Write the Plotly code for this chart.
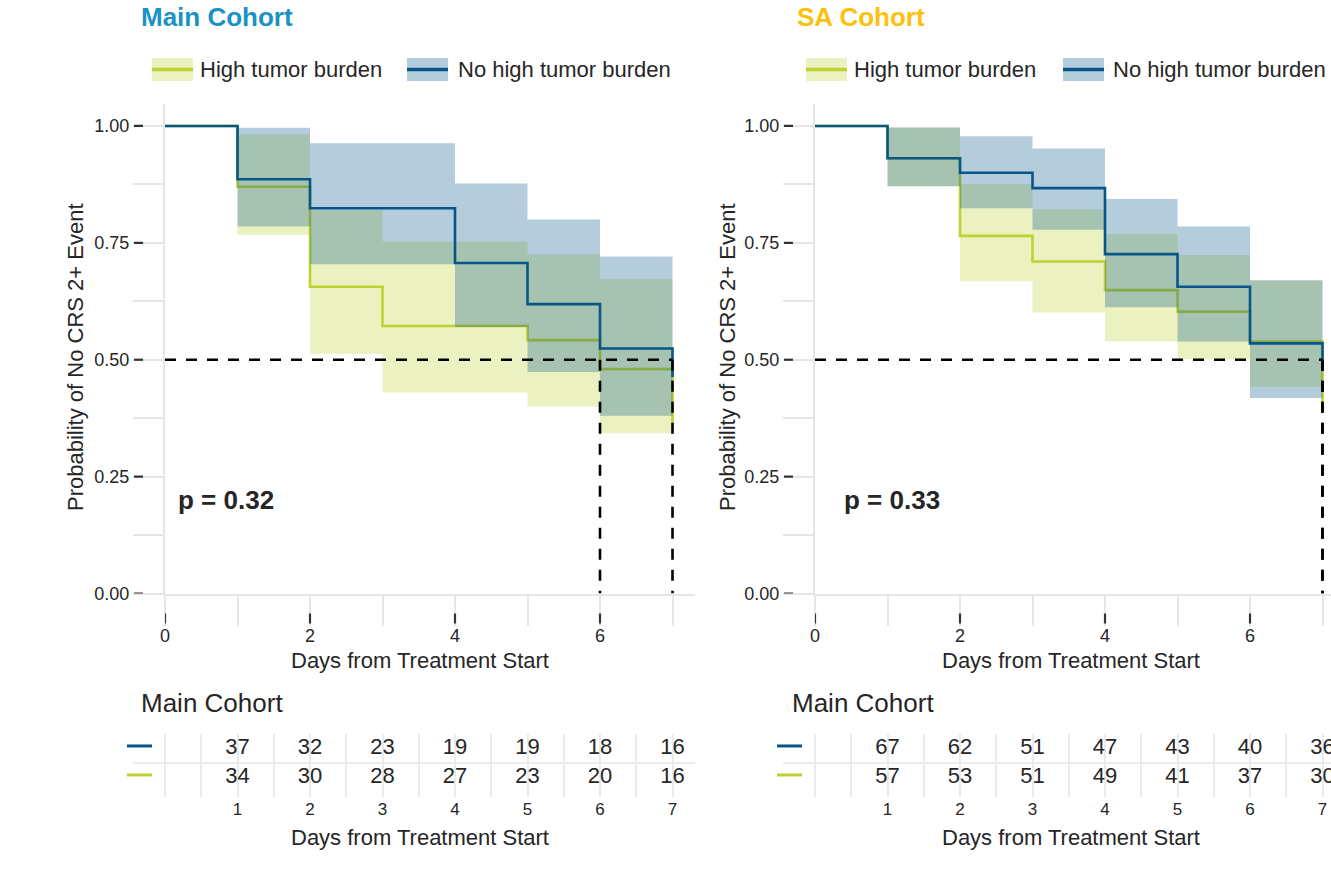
import plotly.graph_objects as go

# ---------------------------------------------------------------------------
# Kaplan-Meier estimates (probability of no CRS 2+ event) by day
# ---------------------------------------------------------------------------
days = [0, 1, 2, 3, 4, 5, 6, 7]

# Main cohort
main_high_surv = [1.00, 0.870, 0.656, 0.572, 0.572, 0.542, 0.480, 0.363]
main_high_lower = [1.00, 0.767, 0.513, 0.430, 0.430, 0.400, 0.343]
main_high_upper = [1.00, 0.982, 0.820, 0.753, 0.753, 0.725, 0.672]
main_nohigh_surv = [1.00, 0.886, 0.824, 0.824, 0.707, 0.619, 0.524, 0.463]
main_nohigh_lower = [1.00, 0.785, 0.704, 0.704, 0.570, 0.474, 0.380]
main_nohigh_upper = [1.00, 0.996, 0.963, 0.963, 0.877, 0.800, 0.721]

# SA cohort
sa_high_surv = [1.00, 0.931, 0.765, 0.710, 0.649, 0.603, 0.539, 0.394]
sa_high_lower = [1.00, 0.871, 0.668, 0.601, 0.539, 0.501, 0.442]
sa_high_upper = [1.00, 0.997, 0.876, 0.822, 0.769, 0.724, 0.669]
sa_nohigh_surv = [1.00, 0.931, 0.900, 0.867, 0.726, 0.656, 0.535, 0.482]
sa_nohigh_lower = [1.00, 0.871, 0.824, 0.778, 0.612, 0.539, 0.418]
sa_nohigh_upper = [1.00, 0.997, 0.978, 0.952, 0.844, 0.785, 0.670]

# Numbers at risk
risk_days = [1, 2, 3, 4, 5, 6, 7]
main_nohigh_risk = [37, 32, 23, 19, 19, 18, 16]
main_high_risk = [34, 30, 28, 27, 23, 20, 16]
sa_nohigh_risk = [67, 62, 51, 47, 43, 40, 36]
sa_high_risk = [57, 53, 51, 49, 41, 37, 30]

p_main = "p = 0.32"
p_sa = "p = 0.33"

group_labels = ["High tumor burden", "No high tumor burden"]
y_ticks = [0.0, 0.25, 0.5, 0.75, 1.0]
x_ticks_major = [0, 2, 4, 6]

# ---------------------------------------------------------------------------
# Styling
# ---------------------------------------------------------------------------
W, H = 1331, 877
FONT = "Liberation Sans, Arial, sans-serif"
TXT = "#262626"
BLUE = "#06568A"
GREEN = "#BDD22E"
BLUE_FILL = "rgba(6,86,138,0.3)"
GREEN_FILL = "rgba(189,210,46,0.3)"
AXIS_GREY = "#E6E6E6"
GRID_GREY = "#EBEBEB"


def px(x):
    return x / W


def py(y):
    return 1 - y / H


def step_path(t, v):
    xs, ys = [], []
    for i in range(len(v)):
        xs += [t[i], t[i + 1]]
        ys += [v[i], v[i]]
    return xs, ys


def median_time(t, s):
    for ti, si in zip(t, s):
        if si <= 0.5:
            return ti
    return None


fig = go.Figure()


def add_km_panel(xa, ya, high, high_lo, high_up, nohigh, nohigh_lo, nohigh_up):
    groups = [
        (high, high_lo, high_up, GREEN, GREEN_FILL),
        (nohigh, nohigh_lo, nohigh_up, BLUE, BLUE_FILL),
    ]
    for surv, lo, up, col, fill in groups:
        xu, yu = step_path(days[1:], up[1:])
        xl, yl = step_path(days[1:], lo[1:])
        fig.add_trace(go.Scatter(
            x=xu + xl[::-1], y=yu + yl[::-1], fill="toself", fillcolor=fill,
            mode="lines", line=dict(width=0), xaxis=xa, yaxis=ya,
            hoverinfo="skip", showlegend=False))
        fig.add_trace(go.Scatter(
            x=days, y=surv, mode="lines", line=dict(color=col, width=2.6, shape="hv"),
            xaxis=xa, yaxis=ya, hoverinfo="skip", showlegend=False))
    # median survival guide lines
    meds = [m for m in (median_time(days, high), median_time(days, nohigh)) if m is not None]
    dash = dict(color="black", width=2.6, dash="11px,10px")
    if meds:
        fig.add_trace(go.Scatter(x=[0, max(meds)], y=[0.5, 0.5], mode="lines", line=dash,
                                 xaxis=xa, yaxis=ya, hoverinfo="skip", showlegend=False))
        for m in meds:
            fig.add_trace(go.Scatter(x=[m, m], y=[0.5, 0], mode="lines", line=dash,
                                     xaxis=xa, yaxis=ya, hoverinfo="skip", showlegend=False))


add_km_panel("x", "y", main_high_surv, main_high_lower, main_high_upper,
             main_nohigh_surv, main_nohigh_lower, main_nohigh_upper)
add_km_panel("x2", "y2", sa_high_surv, sa_high_lower, sa_high_upper,
             sa_nohigh_surv, sa_nohigh_lower, sa_nohigh_upper)


def add_risk_table(xa, ya, nohigh_risk, high_risk):
    for row, vals in ((2, nohigh_risk), (1, high_risk)):
        fig.add_trace(go.Scatter(
            x=risk_days, y=[row] * len(vals), mode="text", text=[str(v) for v in vals],
            textposition="middle center", textfont=dict(size=22, color=TXT, family=FONT),
            xaxis=xa, yaxis=ya, hoverinfo="skip", showlegend=False, cliponaxis=False))


add_risk_table("x3", "y3", main_nohigh_risk, main_high_risk)
add_risk_table("x4", "y4", sa_nohigh_risk, sa_high_risk)

# ---------------------------------------------------------------------------
# Axes
# ---------------------------------------------------------------------------
km_y_dom = [py(593.5), py(104)]
tbl_y_dom = [py(797), py(734)]
left_x_dom = [px(165), px(695)]
right_x_dom = [px(815), 1.0]
left_tbl_dom = [px(133), px(695)]
right_tbl_dom = [px(783), 1.0]
day_px = 72.5

tickfont = dict(size=18, color=TXT, family=FONT)


def km_xaxis(dom, anchor):
    return dict(domain=dom, anchor=anchor,
                range=[0, (dom[1] - dom[0]) * W / day_px],
                showline=True, linecolor=AXIS_GREY, linewidth=2,
                ticks="outside", ticklen=30, tickwidth=2, tickcolor=AXIS_GREY,
                tickvals=x_ticks_major, ticktext=[str(v) for v in x_ticks_major],
                tickfont=tickfont, ticklabelstandoff=-5,
                minor=dict(dtick=1, tick0=0, ticks="outside", ticklen=30,
                           tickwidth=2, tickcolor=AXIS_GREY, showgrid=False),
                showgrid=False, zeroline=False, automargin=False, fixedrange=True)


def km_yaxis(anchor):
    return dict(domain=km_y_dom, anchor=anchor, range=[0, 1.047],
                showline=True, linecolor=AXIS_GREY, linewidth=2,
                ticks="outside", ticklen=30, tickwidth=2, tickcolor=AXIS_GREY,
                tickvals=y_ticks, ticktext=[f"{v:.2f}" for v in y_ticks],
                tickfont=tickfont,
                minor=dict(dtick=0.125, tick0=0, ticks="outside", ticklen=30,
                           tickwidth=2, tickcolor=AXIS_GREY, showgrid=False),
                showgrid=False, zeroline=False, automargin=False, fixedrange=True)


def tbl_xaxis(dom, anchor):
    left = -32 / day_px
    return dict(domain=dom, anchor=anchor,
                range=[left, left + (dom[1] - dom[0]) * W / day_px],
                showline=False, ticks="", tickvals=risk_days,
                ticktext=[str(v) for v in risk_days], tickfont=dict(size=17, color=TXT, family=FONT),
                showgrid=True, gridcolor=GRID_GREY, gridwidth=2,
                minor=dict(dtick=0.5, tick0=0, showgrid=True, gridcolor=GRID_GREY, gridwidth=2),
                zeroline=False, automargin=False, fixedrange=True)


def tbl_yaxis(anchor):
    return dict(domain=tbl_y_dom, anchor=anchor, range=[0.31, 2.483],
                tickvals=[1.5], showticklabels=False, ticks="",
                showgrid=True, gridcolor=GRID_GREY, gridwidth=2,
                showline=False, zeroline=False, automargin=False, fixedrange=True)


fig.update_layout(
    xaxis=km_xaxis(left_x_dom, "y"), yaxis=km_yaxis("x"),
    xaxis2=km_xaxis(right_x_dom, "y2"), yaxis2=km_yaxis("x2"),
    xaxis3=tbl_xaxis(left_tbl_dom, "y3"), yaxis3=tbl_yaxis("x3"),
    xaxis4=tbl_xaxis(right_tbl_dom, "y4"), yaxis4=tbl_yaxis("x4"),
)

# ---------------------------------------------------------------------------
# Dark outer ends of the major ticks, row keys and legends
# ---------------------------------------------------------------------------
shapes = []
for xr, yr in (("x", "y"), ("x2", "y2")):
    for v in y_ticks:
        shapes.append(dict(type="line", xref=f"{xr} domain", yref=yr, xsizemode="pixel",
                           xanchor=0, x0=-31, x1=-22, y0=v, y1=v,
                           line=dict(color="#333333", width=2.2)))
    for v in x_ticks_major:
        shapes.append(dict(type="line", xref=xr, yref=f"{yr} domain", ysizemode="pixel",
                           yanchor=0, y0=-20, y1=-30, x0=v, x1=v,
                           line=dict(color="#333333", width=2.2)))

for xr, yr in (("x3", "y3"), ("x4", "y4")):
    for row, col in ((2, BLUE), (1, GREEN)):
        shapes.append(dict(type="line", xref=f"{xr} domain", yref=yr, xsizemode="pixel",
                           xanchor=0, x0=-6, x1=19, y0=row + 0.07, y1=row + 0.07,
                           line=dict(color=col, width=3)))

annotations = []


def add_legend(box1, text1, box2, text2):
    for (bx, tx), col, fill, label in (((box1, text1), GREEN, GREEN_FILL, group_labels[0]),
                                        ((box2, text2), BLUE, BLUE_FILL, group_labels[1])):
        shapes.append(dict(type="rect", xref="paper", yref="paper",
                           x0=px(bx), x1=px(bx + 41), y0=py(81), y1=py(58),
                           fillcolor=fill, line=dict(width=0)))
        shapes.append(dict(type="line", xref="paper", yref="paper",
                           x0=px(bx), x1=px(bx + 41), y0=py(69.5), y1=py(69.5),
                           line=dict(color=col, width=3.5)))
        annotations.append(dict(text=label, xref="paper", yref="paper", x=px(tx), y=py(70),
                                xanchor="left", yanchor="middle", showarrow=False,
                                font=dict(size=22, color=TXT, family=FONT)))


add_legend(152, 198, 407, 456)
add_legend(806, 852, 1063, 1111)


def add_text(text, x, y, size, color=TXT, xanchor="left", angle=0):
    annotations.append(dict(text=text, xref="paper", yref="paper", x=px(x), y=py(y),
                            xanchor=xanchor, yanchor="middle", showarrow=False,
                            textangle=angle, font=dict(size=size, color=color, family=FONT)))


# panel titles
add_text("<b>Main Cohort</b>", 139, 17, 26, color="#1A93C4")
add_text("<b>SA Cohort</b>", 795, 17, 26, color="#FBC10D")

# y-axis titles
add_text("Probability of No CRS 2+ Event", 75, 357, 22, xanchor="center", angle=-90)
add_text("Probability of No CRS 2+ Event", 727, 357, 22, xanchor="center", angle=-90)

# x-axis titles
for cx in (420, 1071):
    add_text("Days from Treatment Start", cx, 660, 22, xanchor="center")
    add_text("Days from Treatment Start", cx, 837, 22, xanchor="center")

# risk table headers
add_text("Main Cohort", 139, 703, 26)
add_text("Main Cohort", 790, 703, 26)

# log-rank p-values
add_text(f"<b>{p_main}</b>", 176, 500, 26)
add_text(f"<b>{p_sa}</b>", 842, 500, 26)

fig.update_layout(
    width=W, height=H, margin=dict(l=0, r=0, t=0, b=0),
    paper_bgcolor="white", plot_bgcolor="white", template="none",
    showlegend=False, font=dict(family=FONT, color=TXT),
    shapes=shapes, annotations=annotations, hovermode=False,
)

fig.write_html("out.html")
